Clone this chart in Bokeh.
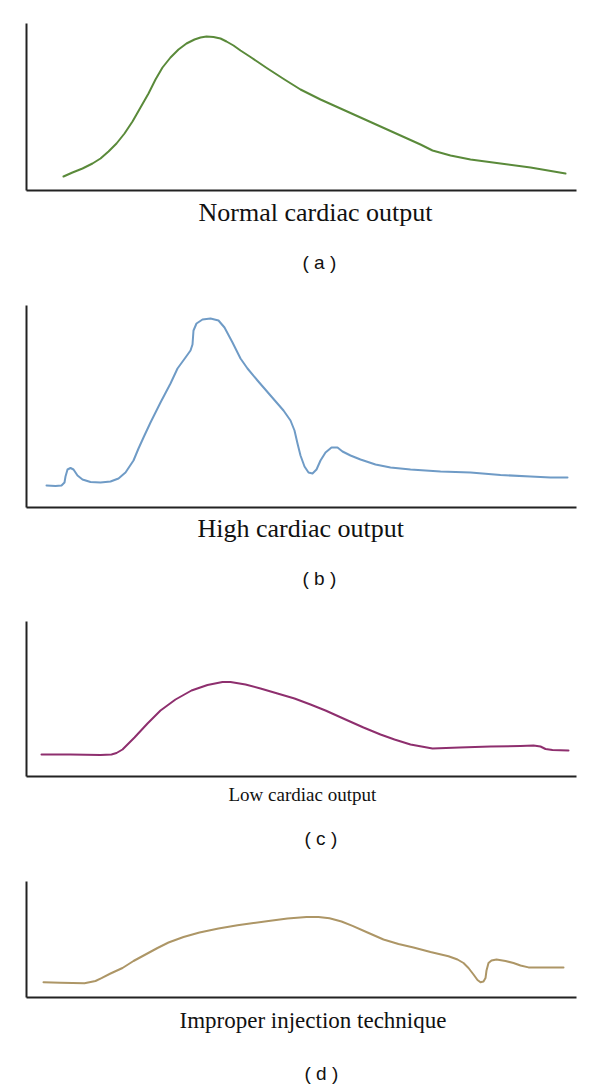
from bokeh.plotting import figure
from bokeh.models import Range1d, LinearAxis, FixedTicker, Title
from bokeh.layouts import column
from bokeh.embed import file_html
from bokeh.resources import INLINE

# ---------------- data ----------------
captions = ["Normal cardiac output", "High cardiac output",
            "Low cardiac output", "Improper injection technique"]
panel_tags = ["( a )", "( b )", "( c )", "( d )"]

# time (arbitrary units) / indicator concentration (arbitrary units)
normal_t = [37, 46, 56, 66, 74, 82, 90, 98, 106, 114, 122, 129, 136, 144, 152, 160, 168,
            174, 180, 187, 194, 200, 207, 214, 224, 241, 258, 274, 294, 314, 334, 354, 374,
            394, 406, 424, 444, 474, 504, 539]
normal_c = [14, 18, 22, 27, 32, 39, 47, 57, 69, 83, 97, 111, 123, 133, 141, 147, 151,
            153, 154, 153.5, 152, 149, 145, 140, 133.5, 122, 111, 101, 91, 82, 73, 64, 55,
            46, 40, 35, 31, 27, 23, 17]

high_t = [20, 29, 35, 38, 39, 41, 44, 47, 51, 56, 64, 74, 84, 92, 99, 107, 112, 117, 124, 134,
          144, 151, 159, 164, 166, 167, 170, 176, 184, 192, 198, 206, 214, 221, 231, 244, 257,
          264, 268, 271, 274, 278, 282, 286, 290, 294, 299, 305, 311, 316, 324, 334, 349, 364,
          384, 414, 444, 474, 504, 524, 541]
high_c = [22, 21.5, 22, 25, 31, 38, 39.5, 38, 32, 28, 25.5, 25, 26, 29, 35, 47, 59, 70, 85, 105,
          124, 139, 150, 157, 163, 177, 184, 188, 189, 187, 180, 165, 149, 139, 127, 112, 97,
          87, 77, 64, 52, 41, 35, 34, 38, 47, 55, 60, 60, 56, 52, 48, 43, 40,
          38, 36, 35, 32.5, 31, 30, 30]

low_t = [15, 44, 74, 85, 90, 96, 108, 121, 134, 149, 165, 181, 196, 204, 219, 234, 251,
         268, 284, 299, 319, 337, 354, 368, 384, 406, 433, 464, 494, 507, 514, 519, 526, 542]
low_c = [22, 22, 21.5, 22, 23.5, 27, 39, 53, 66, 77, 86, 91.5, 94.5, 94.5, 92, 88, 83,
         78, 72, 66, 57, 49, 42, 37, 32, 28, 29, 30, 30.5, 31, 30, 27.5, 26.5, 26]

improper_t = [17, 34, 58, 69, 75, 84, 96, 107, 119, 131, 142, 157, 173, 192, 211, 227, 242,
              261, 280, 292, 303, 315, 326, 341, 357, 372, 387, 404, 422, 431, 437, 442, 447,
              451, 454, 457, 459, 460, 462, 465, 470, 479, 487, 494, 502, 519, 537]
improper_c = [15.3, 14.7, 14.3, 16.5, 19.4, 24, 29.5, 36.5, 43, 49.5, 55, 60.5, 65, 69, 72.2,
              74.5, 76.6, 79, 80.6, 80.6, 79.2, 76, 71.6, 65, 58, 53.5, 50, 45.5, 41.3, 38,
              34.5, 29.5, 23, 17.5, 15.3, 16, 19.4, 27, 34.5, 37, 38, 36.5, 34.5, 32, 30.1,
              30, 30]

# ---------------- styling / layout ----------------
series = [
    (normal_t, normal_c, "#5a8a3a"),
    (high_t, high_c, "#6f9bc6"),
    (low_t, low_c, "#8e2f6e"),
    (improper_t, improper_c, "#ad9666"),
]
frame_heights = [167, 202, 155, 116]
tops = [23, 12, 12, 16]
bottoms = [103, 102, 89, 92]
cap_sizes = ["26px", "26px", "19px", "23px"]
cap_left = [172, 171, 202, 153]
tag_left = [276, 276, 278, 278]
cap_standoff = [10, 9, 10, 16]
tag_standoff = [37, 36, 32, 40]


def make_axis():
    return LinearAxis(ticker=FixedTicker(ticks=[]),
                      axis_line_color="#222222", axis_line_width=2,
                      major_tick_line_color=None, minor_tick_line_color=None,
                      major_tick_out=0, major_tick_in=0,
                      minor_tick_out=0, minor_tick_in=0,
                      major_label_text_font_size="0px", major_label_standoff=0)


panels = []
for i, (t, c, color) in enumerate(series):
    fh = frame_heights[i]
    p = figure(frame_width=550, frame_height=fh,
               min_border_left=26, min_border_right=16,
               min_border_top=tops[i], min_border_bottom=bottoms[i],
               x_range=Range1d(0, 550), y_range=Range1d(0, fh),
               x_axis_type=None, y_axis_type=None,
               toolbar_location=None, output_backend="svg")
    p.outline_line_color = None
    p.xgrid.visible = False
    p.ygrid.visible = False
    p.add_layout(make_axis(), "left")
    p.add_layout(make_axis(), "below")
    p.line(t, c, line_color=color, line_width=2, line_join="round", line_cap="round")
    p.add_layout(Title(text=captions[i], align="left", offset=cap_left[i],
                       standoff=cap_standoff[i],
                       text_font="Liberation Serif", text_font_size=cap_sizes[i],
                       text_font_style="normal", text_color="#111111"), "below")
    p.add_layout(Title(text=panel_tags[i], align="left", offset=tag_left[i],
                       standoff=tag_standoff[i],
                       text_font="Liberation Sans", text_font_size="19px",
                       text_font_style="normal", text_color="#111111"), "below")
    panels.append(p)

layout = column(*panels, spacing=0)
open("out.html", "w").write(file_html(layout, INLINE))
